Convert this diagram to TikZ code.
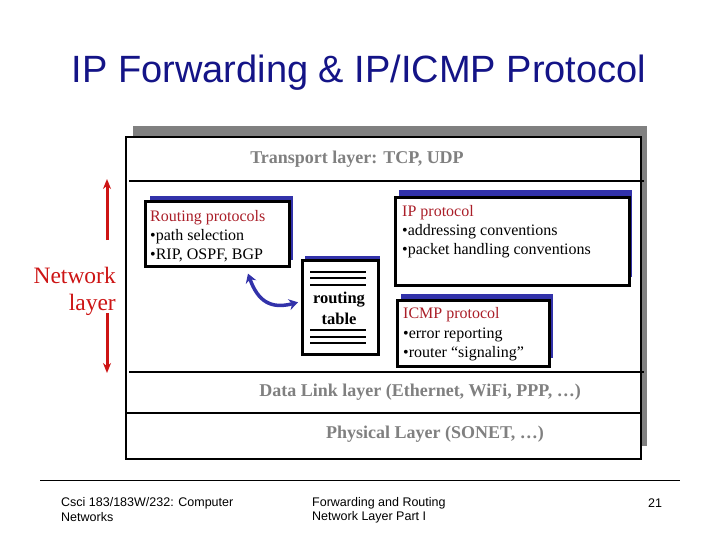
\documentclass[tikz,border=0pt]{standalone}
\usepackage{fontspec}
\setmainfont{Liberation Serif}
\newfontfamily\titlefont{Liberation Sans}
\newfontfamily\footfont{Liberation Sans}
\usetikzlibrary{arrows.meta,calc}
\definecolor{navy}{RGB}{20,20,135}
\definecolor{shadowblue}{RGB}{50,50,170}
\definecolor{darkred}{RGB}{170,30,40}
\definecolor{netred}{RGB}{205,20,20}
\definecolor{layergray}{RGB}{128,128,128}
\definecolor{outershadow}{RGB}{128,128,128}
\begin{document}
\begin{tikzpicture}[x=1pt,y=-1pt,
  box/.style={draw=black,line width=2.6pt,fill=white,anchor=north west,inner sep=0pt},
  bshadow/.style={fill=shadowblue,draw=none},
  txt/.style={anchor=west,inner sep=0pt,font=\fontsize{16}{18}\selectfont},
  head/.style={txt,text=darkred},
  layertxt/.style={inner sep=0pt,text=layergray,font=\fontsize{18}{20}\selectfont\bfseries},
  layerline/.style={line width=2.2pt},
  tabline/.style={line width=2pt},
  redarrow/.style={draw=netred,line width=3pt,-{Stealth[length=10pt,width=8pt]}},
  bluearrow/.style={draw=shadowblue,line width=3.5pt,{Stealth[length=9pt,width=11pt]}-{Stealth[length=9pt,width=11pt]}},
  foot/.style={anchor=west,inner sep=0pt,font=\footfont\fontsize{12.5}{14}\selectfont}]
\useasboundingbox[fill=white] (0,0) rectangle (720,540);

% title
\node[anchor=base,inner sep=0pt,text=navy,font=\titlefont\fontsize{38}{44}\selectfont] (title) at (359,83) {IP Forwarding \& IP/ICMP Protocol};

% outer layer box
\fill[outershadow] (133,126) rectangle (647,446);
\node[box,line width=2.4pt,minimum width=515pt,minimum height=322pt] (outer) at (125,136) {};
\draw[layerline] (129,181) -- (644,181);
\draw[layerline] (129,372) -- (644,372);
\draw[layerline] (127,413) -- (640,413);
\node[layertxt] (transport) at (357,159) {Transport layer: TCP, UDP};
\node[layertxt] (datalink) at (420,392) {Data Link layer (Ethernet, WiFi, PPP, \dots)};
\node[layertxt] (physical) at (435,434) {Physical Layer (SONET, \dots)};

% routing protocols box
\fill[bshadow] (150,196) rectangle (293,260);
\node[box,minimum width=144pt,minimum height=65pt] (rp) at (144,200) {};
\node[head] (rph) at (150,217.5) {Routing protocols};
\node[txt] (rp1) at (150,236.5) {\textbullet path selection};
\node[txt] (rp2) at (150,255.5) {\textbullet RIP, OSPF, BGP};

% routing table
\fill[bshadow] (305,256) rectangle (380,349);
\node[box,minimum width=76pt,minimum height=94pt] (rt) at (301,259) {};
\draw[tabline] (310,272) -- (366,272);
\draw[tabline] (310,278) -- (366,278);
\draw[tabline] (310,285) -- (366,285);
\draw[tabline] (310,330) -- (366,330);
\draw[tabline] (310,337) -- (366,337);
\draw[tabline] (310,343) -- (366,343);
\node[inner sep=0pt,align=center,font=\fontsize{16.5}{21}\selectfont\bfseries] (rtt) at (339,308) {routing\\table};

% IP protocol box
\fill[bshadow] (399,190) rectangle (632,277);
\node[box,minimum width=234pt,minimum height=88pt] (ip) at (394,196) {};
\node[head] (iph) at (402,212.5) {IP protocol};
\node[txt] (ip1) at (402,231.5) {\textbullet addressing conventions};
\node[txt] (ip2) at (402,250.5) {\textbullet packet handling conventions};

% ICMP box
\fill[bshadow] (401,294) rectangle (553,358);
\node[box,minimum width=152pt,minimum height=66pt] (icmp) at (396,299) {};
\node[head] (icmph) at (403,314.5) {ICMP protocol};
\node[txt] (icmp1) at (403,334.5) {\textbullet error reporting};
\node[txt] (icmp2) at (403,353.5) {\textbullet router ``signaling''};

% curved arrow
\draw[bluearrow] ($(rp.south west)+(104,6)$) .. controls ($(rp.south west)+(114,34)$) and ($(rt.west)+(-30,2)$) .. ($(rt.west)+(-3,-5)$);

% network layer
\node[anchor=east,inner sep=0pt,align=right,text=netred,font=\fontsize{23.5}{27}\selectfont] (net) at (116,291) {Network\\layer};
\coordinate (upA) at (107,240);
\coordinate (upB) at (107,179);
\coordinate (dnA) at (107,313);
\coordinate (dnB) at (107,373);
\draw[redarrow] (upA) -- (upB);
\draw[redarrow] (dnA) -- (dnB);

% footer
\draw[line width=1pt] (40,480) -- (680,480);
\node[foot] (f1) at (61,503) {Csci 183/183W/232: Computer};
\node[foot] (f2) at (61,517) {Networks};
\node[foot] (f3) at (312,503) {Forwarding and Routing};
\node[foot] (f4) at (312,517) {Network Layer Part I};
\node[foot] (f5) at (648,503) {21};
\end{tikzpicture}
\end{document}
